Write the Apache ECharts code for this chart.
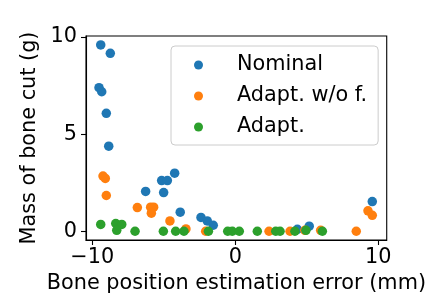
<!DOCTYPE html>
<html><head><meta charset="utf-8">
<script src="https://cdn.jsdelivr.net/npm/echarts@6/dist/echarts.min.js"></script>
<style>html,body{margin:0;padding:0;background:#fff}#c{width:429px;height:300px}</style>
</head><body><div id="c"></div>
<script>
const seriesNames = ["Nominal", "Adapt. w/o f.", "Adapt."];
const nominalX = [-9.41, -8.74, -9.53, -9.34, -9.02, -8.85, -6.27, -5.15, -4.75, -4.24, -5.01, -3.85, -2.40, -1.96, -1.54, 4.34, 5.17, 9.58];
const nominalY = [9.59, 9.16, 7.39, 7.18, 6.07, 4.38, 2.05, 2.61, 2.61, 2.99, 1.99, 0.98, 0.71, 0.53, 0.31, 0.10, 0.26, 1.53];
const adaptNoFX = [-9.25, -9.09, -9.02, -6.85, -5.92, -5.71, -5.87, -4.57, -3.45, -2.07, 2.36, 3.83, 4.87, 5.97, 8.46, 9.28, 9.58];
const adaptNoFY = [2.84, 2.72, 1.84, 1.22, 1.24, 1.24, 0.93, 0.53, 0.12, 0.00, 0.00, 0.00, 0.05, 0.05, 0.00, 1.05, 0.82];
const adaptX = [-9.41, -8.36, -7.94, -8.29, -7.01, -5.03, -4.17, -3.59, -1.88, -0.53, -0.21, 0.28, 1.54, 2.83, 3.13, 4.17, 4.94, 6.09];
const adaptY = [0.35, 0.40, 0.35, 0.05, 0.00, 0.00, 0.00, 0.00, 0.00, 0.00, 0.00, 0.00, 0.00, 0.00, 0.00, 0.00, 0.05, 0.00];
const xTicks = [-10, 0, 10];
const yTicks = [0, 5, 10];
const colors = ["#1f77b4", "#ff7f0e", "#2ca02c"];

const zip = (a, b) => a.map((v, i) => [v, b[i]]);
const font = "DejaVu Sans";
const fs = 20.8;
const chart = echarts.init(document.getElementById('c'), null, {renderer: 'canvas'});
chart.setOption({
  animation: false,
  backgroundColor: '#fff',
  grid: {left: 86, top: 36, width: 301, height: 204, show: true, borderColor: '#000', borderWidth: 1.1, backgroundColor: 'transparent'},
  xAxis: {
    type: 'value', min: -10.44, max: 10.59,
    name: 'Bone position estimation error (mm)', nameLocation: 'middle', nameGap: 33,
    nameTextStyle: {fontFamily: font, fontSize: fs, color: '#000'},
    axisLine: {show: true, onZero: false, lineStyle: {color: '#000', width: 1.1}},
    axisTick: {show: true, length: 5, customValues: xTicks, lineStyle: {color: '#000', width: 1.1}},
    axisLabel: {customValues: xTicks, margin: 7, fontFamily: font, fontSize: fs, color: '#000',
      formatter: v => String(v).replace('-', '\u2212')},
    splitLine: {show: false}
  },
  yAxis: {
    type: 'value', min: -0.45, max: 10.05,
    name: 'Mass of bone cut (g)', nameLocation: 'middle', nameGap: 42, nameRotate: 90,
    nameTextStyle: {fontFamily: font, fontSize: fs, color: '#000'},
    axisLine: {show: true, onZero: false, lineStyle: {color: '#000', width: 1.1}},
    axisTick: {show: true, length: 5, customValues: yTicks, lineStyle: {color: '#000', width: 1.1}},
    axisLabel: {customValues: yTicks, margin: 9, fontFamily: font, fontSize: fs, color: '#000'},
    splitLine: {show: false}
  },
  legend: {
    orient: 'vertical', left: 171, top: 46,
    data: seriesNames,
    icon: 'circle', itemWidth: 9, itemHeight: 9, itemGap: 9,
    padding: [8, 11, 7, 23],
    backgroundColor: 'rgba(255,255,255,0.8)', borderColor: '#cccccc', borderWidth: 1, borderRadius: 4,
    textStyle: {fontFamily: font, fontSize: fs, color: '#000', lineHeight: 22, padding: [0, 0, 0, 29]}
  },
  series: [
    {name: seriesNames[0], type: 'scatter', data: zip(nominalX, nominalY), symbolSize: 9.5, itemStyle: {color: colors[0], opacity: 1}},
    {name: seriesNames[1], type: 'scatter', data: zip(adaptNoFX, adaptNoFY), symbolSize: 9.5, itemStyle: {color: colors[1], opacity: 1}},
    {name: seriesNames[2], type: 'scatter', data: zip(adaptX, adaptY), symbolSize: 9.5, itemStyle: {color: colors[2], opacity: 1}}
  ]
});
</script></body></html>
